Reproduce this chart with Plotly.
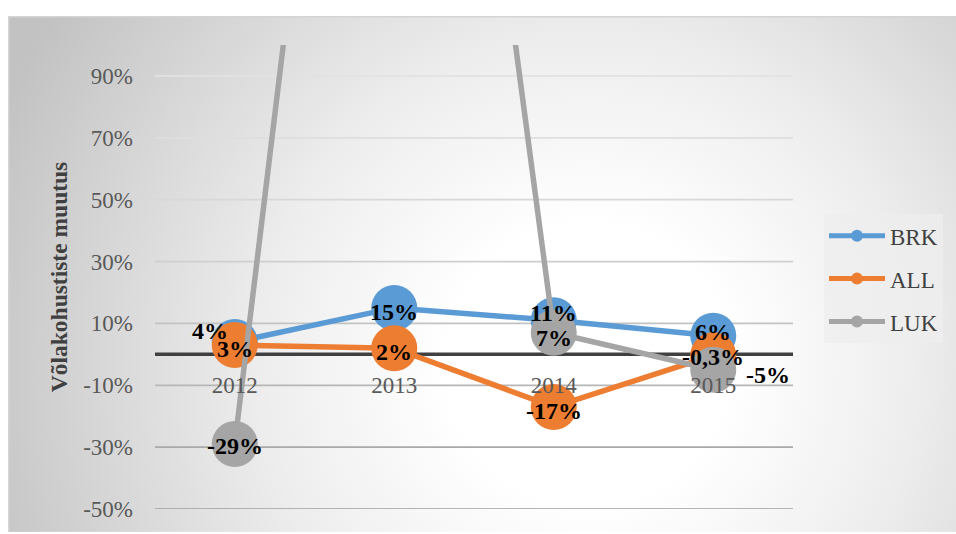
import base64
import plotly.graph_objects as go

# ---- data -------------------------------------------------------------
years = ["2012", "2013", "2014", "2015"]
brk = [4, 15, 11, 6]          # % change, BRK
all_ = [3, 2, -17, -0.3]      # % change, ALL
luk = [-29, 395, 7, -5]       # % change, LUK (2013 runs far above the axis)
y_ticks = [-50, -30, -10, 10, 30, 50, 70, 90]

series = [
    ("BRK", brk, "#5B9BD5"),
    ("ALL", all_, "#ED7D31"),
    ("LUK", luk, "#A5A5A5"),
]

Y_MIN, Y_MAX = -50, 100
SERIF = "Liberation Serif, Times New Roman, serif"
PCT = "&#37;"

# label offsets (dx, dy) in px from the marker centre
label_shift = {
    ("BRK", 0): (-25, 11),
    ("BRK", 2): (0, 7),
    ("BRK", 3): (0, 4),
    ("ALL", 3): (0, -2),
    ("LUK", 0): (0, -2),
    ("LUK", 2): (0, -5),
    ("LUK", 3): (55, -5),
}
DEFAULT_SHIFT = (0, -4)

# light grey gridlines that darken toward the bottom
grid_colors = ["#9e9e9e", "#a9a9a9", "#b6b6b6", "#c3c3c3",
               "#cfcfcf", "#d8d8d8", "#dedede", "#e2e2e2"]


def pct_label(v):
    return f"{v:g}".replace(".", ",") + PCT


# ---- radial-gradient chart-area background as an inline SVG -------------
W_BG, H_BG = 948, 518
svg = f"""<svg xmlns="http://www.w3.org/2000/svg" width="{W_BG}" height="{H_BG}" viewBox="0 0 {W_BG} {H_BG}">
<defs><radialGradient id="g" gradientUnits="userSpaceOnUse" cx="580" cy="350" r="640">
<stop offset="0" stop-color="#ffffff"/>
<stop offset="0.22" stop-color="#ffffff"/>
<stop offset="0.5" stop-color="#eeeeee"/>
<stop offset="0.72" stop-color="#dbdbdb"/>
<stop offset="0.88" stop-color="#cdcdcd"/>
<stop offset="1" stop-color="#c2c2c2"/>
</radialGradient></defs>
<rect x="0" y="0" width="{W_BG}" height="{H_BG}" fill="url(#g)"/>
<path d="M0.75,{H_BG} V0.75 H{W_BG}" fill="none" stroke="#d4d4d4" stroke-width="1.5"/>
</svg>"""
bg_src = "data:image/svg+xml;base64," + base64.b64encode(svg.encode()).decode()

# ---- figure -----------------------------------------------------------
W, H = 956, 534
ML, MR, MT, MB = 155, 163, 45, 23
pw, ph = W - ML - MR, H - MT - MB

fig = go.Figure()

for name, vals, color in series:
    fig.add_trace(go.Scatter(
        x=years, y=vals, mode="lines+markers", name=name,
        line=dict(color=color, width=5.5),
        marker=dict(color=color, size=46),
        showlegend=False, cliponaxis=True, hoverinfo="skip",
    ))

# legend-only entries with small markers
for i, (name, vals, color) in enumerate(series):
    fig.add_trace(go.Scatter(
        x=[None], y=[None], mode="lines+markers", name=name,
        line=dict(color=color, width=5),
        marker=dict(color=color, size=12),
        legendgroup=f"g{i}", showlegend=True,
    ))

# data labels, drawn above all series (values outside the axis range are hidden)
annotations = []
for name, vals, color in series:
    for i, v in enumerate(vals):
        if not (Y_MIN <= v <= Y_MAX):
            continue
        dx, dy = label_shift.get((name, i), DEFAULT_SHIFT)
        annotations.append(dict(
            x=i, y=v, xref="x", yref="y", text=pct_label(v),
            showarrow=False, xshift=dx, yshift=dy,
            font=dict(family=SERIF, size=24, color="#000000", weight="bold"),
        ))

# gridlines and the dark zero line sit beneath the series
shapes = []
for t, c in zip(y_ticks, grid_colors):
    shapes.append(dict(
        type="line", xref="x domain", yref="y", x0=0, x1=1, y0=t, y1=t,
        line=dict(color=c, width=1.75), layer="below",
    ))
shapes.append(dict(
    type="line", xref="x domain", yref="y", x0=0, x1=1, y0=0, y1=0,
    line=dict(color="#404040", width=3.5), layer="below",
))

fig.update_layout(
    width=W, height=H,
    margin=dict(l=ML, r=MR, t=MT, b=MB, pad=0),
    paper_bgcolor="#ffffff",
    plot_bgcolor="rgba(0,0,0,0)",
    images=[dict(
        source=bg_src, xref="paper", yref="paper",
        x=(8 - ML) / pw, y=(H - MB - 16) / ph,
        sizex=W_BG / pw, sizey=H_BG / ph,
        xanchor="left", yanchor="top", sizing="stretch", layer="below",
    )],
    shapes=shapes,
    annotations=annotations,
    showlegend=True,
    legend=dict(
        x=(824 - ML) / pw, y=(H - MB - 215) / ph,
        xanchor="left", yanchor="top",
        bgcolor="rgba(238,238,238,0.75)",
        font=dict(family=SERIF, size=23, color="#404040"),
        tracegroupgap=10, itemwidth=56,
    ),
    xaxis=dict(
        type="category", range=[-0.5, 3.5],
        anchor="free", position=(0 - Y_MIN) / (Y_MAX - Y_MIN),
        showline=False, showgrid=False, zeroline=False, ticks="",
        layer="above traces",
        tickfont=dict(family=SERIF, size=23, color="#595959"),
        ticklabelstandoff=15,
    ),
    yaxis=dict(
        range=[Y_MIN, Y_MAX], tickvals=y_ticks,
        ticktext=[f"{t}" + PCT for t in y_ticks],
        showgrid=False, zeroline=False, showline=False, ticks="",
        tickfont=dict(family=SERIF, size=23, color="#595959"),
        ticklabelstandoff=21,
        title=dict(text="Võlakohustiste muutus", standoff=8,
                   font=dict(family=SERIF, size=23.5, color="#404040", weight="bold")),
    ),
)

fig.write_html("out.html")
